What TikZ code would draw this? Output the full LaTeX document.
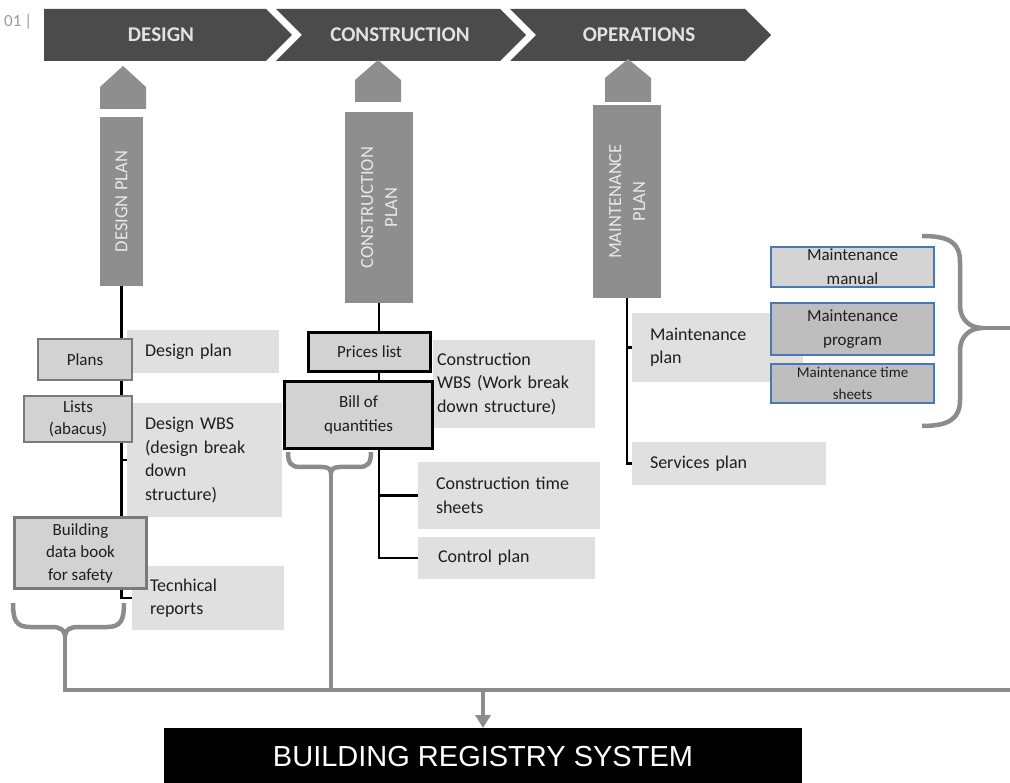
\documentclass[tikz,border=0pt]{standalone}
\usepackage{fontspec}
\setmainfont{Carlito}
\newfontfamily\regfont{Liberation Sans}
\usetikzlibrary{arrows.meta}
\definecolor{chev}{HTML}{4B4B4B}
\definecolor{chevtxt}{HTML}{E2E2E2}
\definecolor{barc}{HTML}{8E8E8E}
\definecolor{bartxt}{HTML}{E8E8E8}
\definecolor{lightbox}{HTML}{E0E0E0}
\definecolor{midbox}{HTML}{D2D2D2}
\definecolor{midborder}{HTML}{7A7A7A}
\definecolor{bluebd}{HTML}{4A78B0}
\definecolor{mfillA}{HTML}{D4D4D4}
\definecolor{mfillB}{HTML}{BEBEBE}
\definecolor{gline}{HTML}{8C8C8C}
\definecolor{txtc}{HTML}{1E1E1E}
\definecolor{numc}{HTML}{9A9A9A}
\tikzset{
  chevshape/.style={fill=chev, draw=none},
  chevlabel/.style={text=chevtxt, font=\bfseries\fontsize{21}{24}\selectfont, inner sep=0},
  houseshape/.style={fill=barc, draw=none},
  planbar/.style={fill=barc, draw=none, text=bartxt, rotate=90, align=center, inner sep=0,
                  font=\fontsize{18.5}{24}\selectfont},
  lbox/.style={fill=lightbox, draw=none, align=left, inner xsep=18, inner ysep=0, text=txtc,
               font=\fontsize{18}{23.5}\selectfont},
  dbox/.style={fill=midbox, draw=midborder, line width=2, align=center, inner sep=0, text=txtc,
               font=\fontsize{17}{22.5}\selectfont},
  bigdbox/.style={dbox, line width=3},
  pbox/.style={fill=midbox, draw=black, line width=3, align=center, inner sep=0, text=txtc,
               font=\fontsize{17}{24}\selectfont},
  mbox/.style={draw=bluebd, line width=1.6, align=center, inner sep=0, text=txtc,
               font=\fontsize{17}{24}\selectfont},
  bline/.style={black, line width=2.5},
  gconn/.style={gline, line width=4.5},
  regbox/.style={fill=black, draw=none, text=white, inner sep=0,
                 font=\regfont\fontsize{29}{30}\selectfont}
}
\begin{document}
\begin{tikzpicture}[x=1pt,y=-1pt]
\useasboundingbox (0,0) rectangle (1010,783);

% page number
\node[text=numc, font=\fontsize{17}{17}\selectfont, anchor=west, inner sep=0] (pnum) at (4,22) {01\,|};

% chevrons
\fill[chevshape] (44,9) -- (266,9) -- (292,35) -- (266,61) -- (44,61) -- cycle;
\fill[chevshape] (276,9) -- (500,9) -- (526,35) -- (500,61) -- (276,61) -- (302,35) -- cycle;
\fill[chevshape] (510,9) -- (745,9) -- (771,35) -- (745,61) -- (510,61) -- (536,35) -- cycle;
\node[chevlabel] (design) at (161,35) {DESIGN};
\node[chevlabel] (construction) at (400,35) {CONSTRUCTION};
\node[chevlabel] (operations) at (639,35) {OPERATIONS};

% house arrows
\fill[houseshape] (100,109) -- (100,87) -- (123,66) -- (146,87) -- (146,109) -- cycle;
\fill[houseshape] (355,102) -- (355,80) -- (378,60) -- (401,80) -- (401,102) -- cycle;
\fill[houseshape] (605,102) -- (605,78) -- (628,59) -- (651,78) -- (651,102) -- cycle;

% plan bars
\node[planbar, minimum width=169, minimum height=43] (dbar) at (121.5,201.5) {DESIGN PLAN};
\node[planbar, minimum width=191, minimum height=68] (cbar) at (379,207.5) {CONSTRUCTION\\PLAN};
\node[planbar, minimum width=193, minimum height=68] (mbar) at (627,201.5) {MAINTENANCE\\PLAN};

% light boxes
\node[lbox, minimum width=152, minimum height=43, text width=116] (dplan) at (203,351.5) {Design plan};
\node[lbox, minimum width=155, minimum height=114, text width=119] (dwbs) at (204.5,460) {Design WBS\\(design break\\down\\structure)};
\node[lbox, minimum width=152, minimum height=64, text width=116] (techr) at (208,598) {Tecnhical\\reports};
\node[lbox, minimum width=162, minimum height=88, text width=154, inner xsep=4] (cwbs) at (514,384) {Construction\\WBS (Work break\\down structure)};
\node[lbox, minimum width=182, minimum height=67, text width=146] (cts) at (509,495.5) {Construction time\\sheets};
\node[lbox, minimum width=177, minimum height=42, text width=137, inner xsep=20] (ctrl) at (506.5,558) {Control plan};
\node[lbox, minimum width=171, minimum height=69, text width=135] (mplan) at (717.5,347.5) {Maintenance\\plan};
\node[lbox, minimum width=194, minimum height=43, text width=158] (serv) at (729,463.5) {Services plan};

% black tree lines
\draw[bline] (dbar.west) |- (techr.west);
\draw[bline] (dbar.west |- dwbs.west) -- (dwbs.west);
\draw[bline] (cbar.west) |- (ctrl.west);
\draw[bline] (cbar.west |- cts.west) -- (cts.west);
\draw[bline] (mbar.west) |- (serv.west);
\draw[bline] (mbar.west |- mplan.west) -- (mplan.west);

% darker boxes
\node[dbox, minimum width=94, minimum height=41] (plans) at (85,359.5) {Plans};
\node[dbox, minimum width=108, minimum height=46] (lists) at (78,419) {Lists\\(abacus)};
\node[bigdbox, minimum width=132, minimum height=71] (bdb) at (80.5,553) {Building\\data book\\for safety};
\node[pbox, minimum width=122, minimum height=39] (prices) at (369.5,352) {Prices list};
\node[pbox, minimum width=148, minimum height=67] (bill) at (358.5,415) {Bill of\\quantities};

% maintenance documents
\node[mbox, fill=mfillA, minimum width=163, minimum height=40] (mman) at (852.5,267) {Maintenance\\manual};
\node[mbox, fill=mfillB, minimum width=163, minimum height=52] (mprog) at (852.5,329) {Maintenance\\program};
\node[mbox, fill=mfillB, minimum width=163, minimum height=39, font=\fontsize{15}{22}\selectfont] (mts) at (852.5,383.5) {Maintenance time\\sheets};

% braces
\coordinate (lbtip) at (65,636);
\coordinate (cbtip) at (331,473);
\coordinate (rbtip) at (983,328);
\coordinate (rbend) at (1010,328);
\coordinate (busL) at (65,690);
\coordinate (busR) at (1010,690);
\coordinate (busA) at (483,690);

\draw[gconn] (13,603) .. controls (13,620) and (16,627) .. (30,627) -- (52,627)
  .. controls (60,627) and (65,630) .. (lbtip)
  .. controls (65,630) and (70,627) .. (78,627) -- (107,627)
  .. controls (121,627) and (124,620) .. (124,603);
\draw[gconn] (288,452) .. controls (288,463) and (291,467) .. (300,467) -- (322,467)
  .. controls (328,467) and (331,469) .. (cbtip)
  .. controls (331,469) and (334,467) .. (340,467) -- (359,467)
  .. controls (368,467) and (371,463) .. (371,452);
\draw[gconn] (922,236) .. controls (950,236) and (960,243) .. (960,262) -- (960,305)
  .. controls (960,320) and (970,328) .. (rbtip)
  .. controls (970,328) and (960,336) .. (960,351) -- (960,400)
  .. controls (960,418) and (950,426) .. (922,426);

% registry
\node[regbox, minimum width=638, minimum height=56, anchor=north] (reg) at (483,728) {BUILDING REGISTRY SYSTEM};

% grey connectors
\draw[gconn] (lbtip) -- (busL) -- (busR);
\draw[gconn] (cbtip) -- (cbtip |- busL);
\draw[gconn] (rbtip) -- (rbend);
\draw[gconn, -{Triangle[width=15,length=13]}] (busA) -- (reg.north);

\end{tikzpicture}
\end{document}
